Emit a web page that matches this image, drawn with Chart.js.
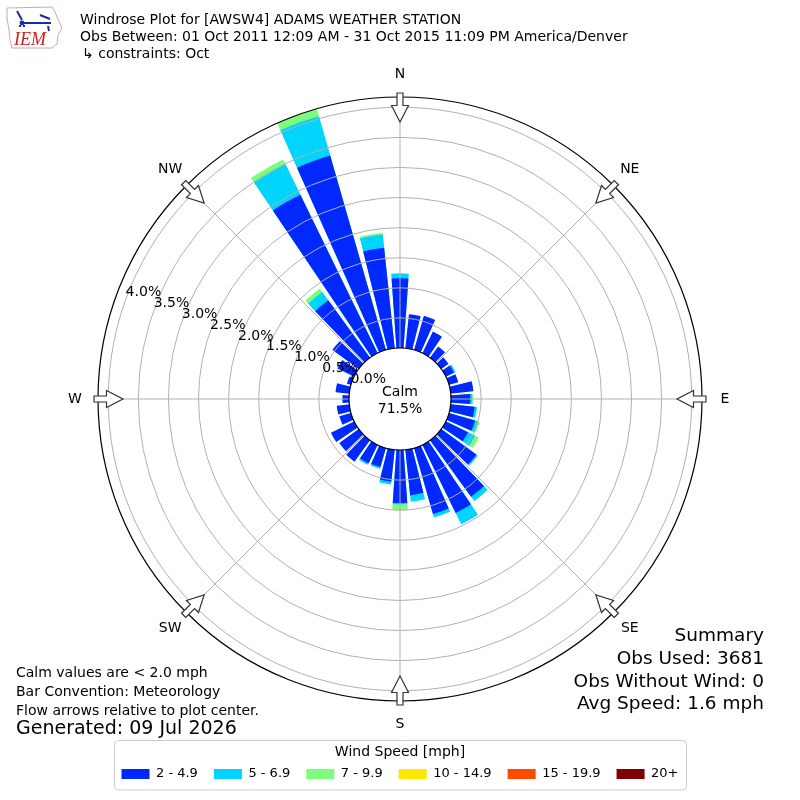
<!DOCTYPE html>
<html>
<head>
<meta charset="utf-8">
<script src="https://cdn.jsdelivr.net/npm/chart.js@4.4.1/dist/chart.umd.min.js"></script>
<style>
  html, body { margin: 0; padding: 0; background: #ffffff; }
  #wrap { width: 800px; height: 800px; }
</style>
</head>
<body>
<div id="wrap"><canvas id="rose" width="800" height="800"></canvas></div>
<script>
// ---------------- data ----------------
const directions = [0, 10, 20, 30, 40, 50, 60, 70, 80, 90, 100, 110, 120, 130, 140, 150, 160, 170,
                    180, 190, 200, 210, 220, 230, 240, 250, 260, 270, 280, 290, 300, 310, 320, 330, 340, 350];

const speedBins = ['2 - 4.9', '5 - 6.9', '7 - 9.9', '10 - 14.9', '15 - 19.9', '20+'];

// percent of observations per direction and speed bin
const pct_2_4   = [1.16, 0.57, 0.59, 0.40, 0.23, 0.15, 0.15, 0.16, 0.38, 0.32, 0.40, 0.45, 0.41, 0.72, 1.16, 1.26, 1.14, 0.76,
                   0.88, 0.53, 0.33, 0.34, 0.44, 0.40, 0.43, 0.20, 0.21, 0.11, 0.23, 0.07, 0.31, 0.54, 1.18, 2.93, 3.36, 1.68];
const pct_5_6   = [0.08, 0, 0, 0, 0, 0, 0.03, 0, 0, 0.03, 0.04, 0.05, 0.13, 0.03, 0.09, 0.21, 0.06, 0.11,
                   0.02, 0.05, 0.03, 0.03, 0, 0, 0, 0, 0, 0, 0, 0, 0, 0, 0.17, 0.56, 0.68, 0.22];
const pct_7_9   = [0, 0, 0, 0, 0, 0, 0, 0, 0, 0.02, 0, 0.03, 0.07, 0, 0, 0, 0, 0,
                   0.10, 0, 0, 0, 0, 0, 0, 0, 0, 0, 0, 0, 0, 0, 0.07, 0.09, 0.13, 0.03];
const pct_10_14 = [0, 0, 0, 0, 0, 0, 0, 0, 0, 0, 0, 0, 0, 0, 0, 0, 0, 0,
                   0, 0, 0, 0, 0, 0, 0, 0, 0, 0, 0, 0, 0, 0, 0, 0, 0, 0];
const pct_15_19 = [0, 0, 0, 0, 0, 0, 0, 0, 0, 0, 0, 0, 0, 0, 0, 0, 0, 0,
                   0, 0, 0, 0, 0, 0, 0, 0, 0, 0, 0, 0, 0, 0, 0, 0, 0, 0];
const pct_20p   = [0, 0, 0, 0, 0, 0, 0, 0, 0, 0, 0, 0, 0, 0, 0, 0, 0, 0,
                   0, 0, 0, 0, 0, 0, 0, 0, 0, 0, 0, 0, 0, 0, 0, 0, 0, 0];

const ringTicks = [0.0, 0.5, 1.0, 1.5, 2.0, 2.5, 3.0, 3.5, 4.0];
const compassLabels = ['N', 'NE', 'E', 'SE', 'S', 'SW', 'W', 'NW'];
const compassAngles = [0, 45, 90, 135, 180, 225, 270, 315];

const calmPct = '71.5%';
const headerLines = [
  'Windrose Plot for [AWSW4] ADAMS WEATHER STATION',
  'Obs Between: 01 Oct 2011 12:09 AM - 31 Oct 2015 11:09 PM America/Denver',
  '\u21b3 constraints: Oct'
];
const noteLines = ['Calm values are < 2.0 mph', 'Bar Convention: Meteorology', 'Flow arrows relative to plot center.'];
const generatedText = 'Generated: 09 Jul 2026';
const summaryLines = ['Summary', 'Obs Used: 3681', 'Obs Without Wind: 0', 'Avg Speed: 1.6 mph'];

// ---------------- styles ----------------
const binColors = ['#0028ff', '#00d4ff', '#7dfc7c', '#ffe600', '#ff4a00', '#7f0000'];
const FONT = 'DejaVu Sans';
Chart.defaults.font.family = FONT;
Chart.defaults.color = '#000';

// ---------------- build datasets (stacked via cumulative overlay) ----------------
const series = [pct_2_4, pct_5_6, pct_7_9, pct_10_14, pct_15_19, pct_20p];
const cumulative = series.map((s, k) =>
  directions.map((d, i) => series.slice(0, k + 1).reduce((acc, arr) => acc + arr[i], 0)));

const labels = [];
directions.forEach(d => { labels.push(d + '\u00b0'); labels.push(''); });

const BAR_DEG = 8, GAP_DEG = 2;   // 10 degree sectors, bars use 80% opening

const datasets = cumulative.map((cum, k) => ({
  label: speedBins[k],
  data: cum.flatMap((v, i) => [series[k][i] > 0 ? v : 0, 0]),
  backgroundColor: binColors[k],
  borderWidth: 0,
  angle: ctx => (ctx.dataIndex % 2 === 0 ? BAR_DEG : GAP_DEG)
}));

// ---------------- decoration plugin ----------------
function polarPoint(cx, cy, r, deg) {
  const t = (deg - 90) * Math.PI / 180;
  return { x: cx + r * Math.cos(t), y: cy + r * Math.sin(t) };
}

const windroseDecor = {
  id: 'windroseDecor',
  afterDatasetsDraw(chart) {
    const s = chart.scales.r;
    const ctx = chart.ctx;
    const cx = s.xCenter, cy = s.yCenter;
    const R = s.drawingArea;
    const r0 = s.getDistanceFromCenterForValue(0);
    ctx.save();
    // rings
    ctx.strokeStyle = '#b0b0b0';
    ctx.lineWidth = 1;
    ringTicks.forEach(v => {
      if (v <= 0) return;
      ctx.beginPath();
      ctx.arc(cx, cy, s.getDistanceFromCenterForValue(v), 0, Math.PI * 2);
      ctx.stroke();
    });
    // angle lines
    compassAngles.forEach(a => {
      const p1 = polarPoint(cx, cy, r0, a), p2 = polarPoint(cx, cy, R, a);
      ctx.beginPath(); ctx.moveTo(p1.x, p1.y); ctx.lineTo(p2.x, p2.y); ctx.stroke();
    });
    // calm hole
    ctx.beginPath();
    ctx.arc(cx, cy, r0, 0, Math.PI * 2);
    ctx.fillStyle = '#ffffff';
    ctx.fill();
    ctx.strokeStyle = '#000';
    ctx.lineWidth = 1.2;
    ctx.stroke();
    // outer frame
    ctx.beginPath();
    ctx.arc(cx, cy, R, 0, Math.PI * 2);
    ctx.stroke();
    // flow arrows
    compassAngles.forEach(a => {
      const rad = (a - 90) * Math.PI / 180;
      const ux = Math.cos(rad), uy = Math.sin(rad);
      const px = -uy, py = ux;
      const rt = R + 4, rb = R - 8.5, rtip = R - 25, sw = 3, hw = 8.5;
      const pts = [
        [rt, sw], [rb, sw], [rb, hw], [rtip, 0], [rb, -hw], [rb, -sw], [rt, -sw]
      ].map(([r, w]) => [cx + ux * r + px * w, cy + uy * r + py * w]);
      ctx.beginPath();
      pts.forEach(([x, y], i) => (i ? ctx.lineTo(x, y) : ctx.moveTo(x, y)));
      ctx.closePath();
      ctx.fillStyle = '#fff';
      ctx.fill();
      ctx.strokeStyle = '#333';
      ctx.lineWidth = 1.2;
      ctx.stroke();
    });
    // compass labels
    ctx.fillStyle = '#000';
    ctx.font = '14px "' + FONT + '"';
    ctx.textAlign = 'center';
    ctx.textBaseline = 'middle';
    compassLabels.forEach((lab, i) => {
      const p = polarPoint(cx, cy, R + 23, compassAngles[i]);
      ctx.fillText(lab, p.x, p.y);
    });
    // radial tick labels
    ctx.textAlign = 'left';
    ctx.textBaseline = 'alphabetic';
    ringTicks.forEach(v => {
      const p = polarPoint(cx, cy, s.getDistanceFromCenterForValue(v), 291);
      ctx.fillText(v.toFixed(1) + '%', p.x - 2, p.y + 2);
    });
    // calm text
    ctx.textAlign = 'center';
    ctx.textBaseline = 'middle';
    ctx.fillText('Calm', cx, cy - 7);
    ctx.fillText(calmPct, cx, cy + 10);
    ctx.restore();
  },
  afterDraw(chart) {
    const ctx = chart.ctx;
    ctx.save();
    // header
    ctx.fillStyle = '#000';
    ctx.font = '14px "' + FONT + '"';
    ctx.textAlign = 'left';
    ctx.textBaseline = 'middle';
    headerLines.forEach((t, i) => ctx.fillText(t, i === 2 ? 82 : 80, 20 + i * 17));
    // logo (simplified IEM mark)
    ctx.strokeStyle = '#c8a8b0';
    ctx.lineWidth = 1;
    ctx.beginPath();
    [[7, 8], [52, 7], [55, 12], [58, 19], [62, 28], [58, 35], [57, 44], [52, 48], [12, 48], [10, 40], [9, 30], [7, 18]]
      .forEach(([x, y], i) => (i ? ctx.lineTo(x, y) : ctx.moveTo(x, y)));
    ctx.closePath();
    ctx.stroke();
    ctx.strokeStyle = '#1b2aa8';
    ctx.fillStyle = '#1b2aa8';
    ctx.lineWidth = 2;
    ctx.beginPath(); ctx.moveTo(17, 11); ctx.lineTo(22, 20); ctx.stroke();
    ctx.beginPath(); ctx.moveTo(22, 23); ctx.lineTo(51, 23); ctx.stroke();
    ctx.beginPath(); ctx.arc(22, 23, 2.4, 0, Math.PI * 2); ctx.fill();
    ctx.beginPath(); ctx.moveTo(40, 15); ctx.lineTo(50, 19); ctx.stroke();
    ctx.beginPath(); ctx.moveTo(48, 26); ctx.lineTo(49, 31); ctx.stroke();
    ctx.fillRect(19, 25, 2, 2); ctx.fillRect(23, 25, 2, 2);
    ctx.fillStyle = '#cc2020';
    ctx.font = 'italic 18px "Liberation Serif"';
    ctx.textAlign = 'left';
    ctx.textBaseline = 'alphabetic';
    ctx.fillText('IEM', 14, 45);
    // notes bottom-left
    ctx.fillStyle = '#000';
    ctx.font = '14px "' + FONT + '"';
    ctx.textBaseline = 'middle';
    noteLines.forEach((t, i) => ctx.fillText(t, 16, 673 + i * 19));
    ctx.font = '19px "' + FONT + '"';
    ctx.fillText(generatedText, 16, 729);
    // summary bottom-right
    ctx.font = '18.5px "' + FONT + '"';
    ctx.textAlign = 'right';
    summaryLines.forEach((t, i) => ctx.fillText(t, 764, 636.5 + i * 22.7));
    // legend frame
    const lg = chart.legend;
    if (lg && lg.legendHitBoxes && lg.legendHitBoxes.length) {
      const hb = lg.legendHitBoxes;
      const left = hb[0].left - 7;
      const last = hb[hb.length - 1];
      const right = last.left + last.width + 8;
      const top = lg.top - 4.5, bottom = lg.bottom - 0.5;
      ctx.strokeStyle = '#cccccc';
      ctx.lineWidth = 1;
      ctx.beginPath();
      ctx.roundRect(left, top, right - left, bottom - top, 4);
      ctx.stroke();
    }
    ctx.restore();
  }
};

new Chart(document.getElementById('rose'), {
  type: 'polarArea',
  data: { labels, datasets },
  options: {
    responsive: false,
    animation: false,
    devicePixelRatio: 1,
    layout: { padding: { left: 98, right: 98, top: 53, bottom: 9.5 } },
    scales: {
      r: {
        min: -0.847,
        max: 4.17,
        startAngle: -BAR_DEG / 2,
        ticks: { display: false },
        grid: { display: false },
        angleLines: { display: false },
        pointLabels: { display: false }
      }
    },
    plugins: {
      tooltip: { enabled: false },
      legend: {
        position: 'bottom',
        title: {
          display: true,
          text: 'Wind Speed [mph]',
          color: '#000',
          font: { size: 14, family: FONT },
          padding: { top: 0, bottom: -10.3 }
        },
        labels: {
          boxWidth: 28,
          boxHeight: 10,
          padding: 16,
          color: '#000',
          font: { size: 13, family: FONT },
          generateLabels: () => speedBins.map((t, i) => ({
            text: t, fillStyle: binColors[i], strokeStyle: binColors[i], lineWidth: 0, hidden: false, index: i
          }))
        }
      }
    }
  },
  plugins: [windroseDecor]
});
</script>
</body>
</html>
